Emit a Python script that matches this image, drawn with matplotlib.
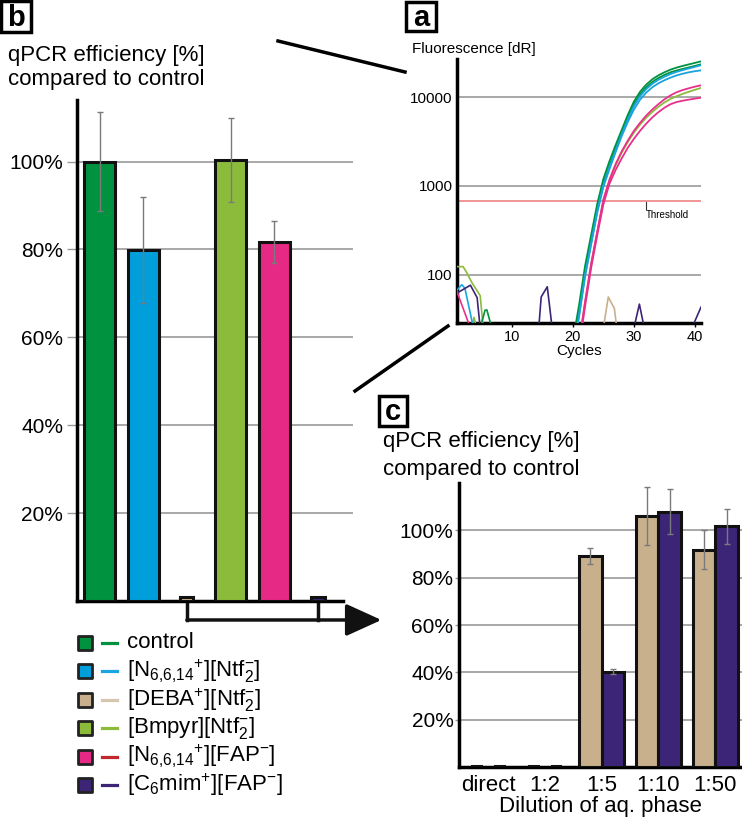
import numpy as np
import matplotlib.pyplot as plt
from matplotlib.patches import Rectangle
from matplotlib.ticker import NullLocator

plt.rcParams['font.family'] = ['Liberation Sans', 'DejaVu Sans']
plt.rcParams['mathtext.default'] = 'regular'

# ---- data -------------------------------------------------------------
labels = ['control',
          r'[N$_{6{,}6{,}14}$$^{+}$][Ntf$_2^{-}$]',
          r'[DEBA$^{+}$][Ntf$_2^{-}$]',
          r'[Bmpyr][Ntf$_2^{-}$]',
          r'[N$_{6{,}6{,}14}$$^{+}$][FAP$^{-}$]',
          r'[C$_6$mim$^{+}$][FAP$^{-}$]']
bar_colors = ['#00923f', '#009fdc', '#c8b08c', '#8cbb3c', '#e62984', '#3c2577']
line_colors = ['#00923f', '#19a6e0', '#d6c6ae', '#8cbb3c', '#c0282d', '#3c2577']

# panel b: efficiency per ionic liquid
eff_b = [100, 79.9, 0.9, 100.3, 81.6, 0.9]
err_b = [11.3, 12.0, 0, 9.5, 4.8, 0]

# panel c: dilution series
dilutions = ['direct', '1:2', '1:5', '1:10', '1:50']
eff_deba = [0.6, 0.6, 89.0, 106.0, 91.9]
err_deba = [0, 0, 3.4, 12.4, 8.2]
eff_c6 = [0.6, 0.6, 40.3, 107.8, 101.7]
err_c6 = [0, 0, 1.0, 9.5, 7.5]

# panel a: amplification curves (fluorescence dR per cycle)
cycles = [20, 21, 22, 23, 24, 25, 26, 27, 28, 29, 30, 31, 32, 33, 34, 35, 36, 37, 38, 39, 40, 41]
amp_control1 = [18, 45, 126, 282, 631, 1202, 1905, 2884, 4266, 6310, 8913, 11482, 13804, 15849, 17579, 19055, 20417, 21528, 22491, 23388, 24322, 25293]
amp_control2 = [15, 38, 105, 240, 550, 1072, 1698, 2630, 3981, 5888, 8318, 10715, 12882, 14791, 16406, 17783, 19055, 19953, 20797, 21627, 22491, 23442]
amp_n_ntf1 = [14, 35, 100, 229, 525, 1023, 1622, 2512, 3802, 5623, 7943, 10233, 12303, 14125, 15668, 16982, 18197, 19275, 20184, 21038, 21928, 22909]
amp_n_ntf2 = [13, 33, 95, 219, 501, 977, 1549, 2399, 3631, 5248, 7244, 9333, 11220, 12882, 14289, 15488, 16596, 17579, 18365, 19055, 19588, 20045]
amp_bmpyr = [8, 16, 48, 128, 300, 690, 1150, 1700, 2370, 3120, 3980, 4900, 5850, 6800, 7760, 8710, 9550, 10230, 10900, 11500, 12100, 12700]
amp_n_fap1 = [7, 17, 50, 135, 310, 700, 1180, 1760, 2450, 3240, 4170, 5130, 6170, 7240, 8320, 9440, 10470, 11350, 12020, 12590, 13120, 13600]
amp_n_fap2 = [6, 15, 44, 120, 280, 620, 1060, 1510, 2040, 2690, 3390, 4170, 5010, 5890, 6760, 7590, 8320, 8810, 9120, 9380, 9620, 9840]

# background noise traces (cycle, dR)
noise = [
    ('#8cbb3c', [1, 2, 2.6, 3.5, 4.8, 5.3], [123, 123, 105, 80, 58, 25]),
    ('#8cbb3c', [3.4, 3.8, 4.2], [25, 33, 25]),
    ('#19a6e0', [1, 1.8, 2.3, 3.7], [67, 77, 70, 25]),
    ('#3c2577', [1, 3.2, 4.3, 4.8], [62, 76, 55, 25]),
    ('#e8308a', [1, 3.2], [64, 25]),
    ('#00923f', [4.8, 5.6, 5.9, 6.7], [25, 39.7, 40, 25]),
    ('#3c2577', [14.4, 14.8, 15.8, 16.6], [25, 56, 73, 25]),
    ('#c8b08c', [25, 25.8, 26.8, 27.2], [25, 56, 41.5, 25]),
    ('#3c2577', [30, 30.9, 31.7], [25, 46.5, 25]),
    ('#3c2577', [39.5, 41], [25, 43]),
]
threshold = 675

# ---- figure -----------------------------------------------------------
W, H = 742, 821
fig = plt.figure(figsize=(W / 100, H / 100), dpi=100)


def box(x0, y0, x1, y1):
    return [x0 / W, 1 - y1 / H, (x1 - x0) / W, (y1 - y0) / H]


# overlay in pixel coordinates for decorations
ov = fig.add_axes([0, 0, 1, 1])
ov.set_xlim(0, W)
ov.set_ylim(H, 0)
ov.axis('off')

for letter, (x0, y0, x1, y1) in [('b', (1, 1, 31, 32)), ('a', (406, 2, 436, 31)), ('c', (379, 396, 407, 426))]:
    ov.add_patch(Rectangle((x0, y0), x1 - x0, y1 - y0, fill=False, ec='black', lw=2.5))
    ov.text((x0 + x1) / 2, (y0 + y1) / 2 + 1, letter, ha='center', va='center',
            fontsize=21, fontweight='bold')

ov.plot([278, 405], [41, 72], color='black', lw=2.5)
ov.plot([355, 448], [391, 326], color='black', lw=2.5)

# legend
for i, (lab, fc, lc) in enumerate(zip(labels, bar_colors, line_colors)):
    y = 643 + 28.4 * i
    ov.scatter(85, y, marker='s', s=95, facecolor=fc, edgecolor='#222222', linewidth=2)
    ov.plot([102, 117], [y, y], color=lc, lw=2.3)
    ov.text(127, y, lab, va='center', ha='left', fontsize=16)

# titles
ov.text(8, 55, 'qPCR efficiency [%]', va='center', fontsize=16)
ov.text(8, 80, 'compared to control', va='center', fontsize=16)
ov.text(383, 442, 'qPCR efficiency [%]', va='center', fontsize=16)
ov.text(383, 470, 'compared to control', va='center', fontsize=16)
ov.text(412, 49, 'Fluorescence [dR]', va='center', fontsize=11)

# ---- panel b ----------------------------------------------------------
axb = fig.add_axes(box(77, 100, 353, 601))
xb = np.arange(len(eff_b))
wb = [0.71 if v > 2 else 0.3 for v in eff_b]
axb.bar(xb, eff_b, width=wb, color=bar_colors, edgecolor='#111111', linewidth=2.2, zorder=3)
mask = np.array(err_b) > 0
axb.errorbar(xb[mask], np.array(eff_b)[mask], yerr=np.array(err_b)[mask], fmt='none',
             ecolor='#7a7a7a', elinewidth=1, capsize=2.5, capthick=1, zorder=4)
axb.set_xlim(-0.515, 5.8)
axb.set_ylim(0, 114)
axb.set_yticks([20, 40, 60, 80, 100])
axb.set_yticklabels(['20%', '40%', '60%', '80%', '100%'], fontsize=15)
axb.set_xticks([])
axb.yaxis.grid(True, color='#9a9a9a', lw=1.2)
axb.set_axisbelow(True)
axb.tick_params(axis='y', length=7, width=1, color='#9a9a9a', pad=3)
for s in ['top', 'right']:
    axb.spines[s].set_visible(False)
axb.spines['left'].set_linewidth(2.5)
axb.spines['bottom'].set_linewidth(2.5)
axb.spines['bottom'].set_bounds(-0.515, 5.57)
axb.patch.set_alpha(0)

yb = -19 / 4.4
axb.plot([2, 2], [0, yb], color='#111111', lw=2.5, clip_on=False)
axb.plot([5, 5], [0, yb], color='#111111', lw=2.5, clip_on=False)
axb.annotate('', xy=(6.45, yb), xytext=(2, yb), annotation_clip=False,
             arrowprops=dict(arrowstyle='-|>,head_length=1.1,head_width=0.5',
                             color='#111111', lw=2.5, mutation_scale=20,
                             shrinkA=0, shrinkB=0))

# ---- panel a ----------------------------------------------------------
axa = fig.add_axes(box(457, 59, 701, 323))
axa.set_yscale('log')
axa.set_xlim(1, 41)
axa.set_ylim(28.5, 26900)
axa.axhline(threshold, color='#f08c8c', lw=1.3, zorder=2)
for col, cx, cy in noise:
    axa.plot(cx, cy, color=col, lw=1.2, zorder=3)
amp = [(amp_control1, '#00923f'), (amp_control2, '#00923f'),
       (amp_n_ntf1, '#1aa3dd'), (amp_n_ntf2, '#1aa3dd'),
       (amp_bmpyr, '#8cbb3c'), (amp_n_fap1, '#e8308a'), (amp_n_fap2, '#e8308a')]
for vals, col in amp:
    axa.plot(cycles, vals, color=col, lw=1.3, zorder=3)
axa.set_yticks([100, 1000, 10000])
axa.set_yticklabels(['100', '1000', '10000'], fontsize=11)
axa.yaxis.set_minor_locator(NullLocator())
axa.set_xticks([10, 20, 30, 40])
axa.set_xticklabels(['10', '20', '30', '40'], fontsize=10.5)
axa.tick_params(axis='y', length=0, pad=3)
axa.tick_params(axis='x', length=3, width=1, pad=2)
axa.yaxis.grid(True, color='#9a9a9a', lw=1.2)
axa.set_axisbelow(True)
for s in ['top', 'right']:
    axa.spines[s].set_visible(False)
axa.spines['left'].set_linewidth(2.5)
axa.spines['bottom'].set_linewidth(2.5)
axa.set_xlabel('Cycles', fontsize=11, labelpad=0)
axa.plot([32.0, 32.0], [650, 545], color='#333333', lw=0.8, zorder=3)
axa.text(32.0, 464, 'Threshold', fontsize=7, ha='left', va='center')

# ---- panel c ----------------------------------------------------------
axc = fig.add_axes(box(459, 483, 742, 767))
xc = np.arange(len(dilutions))
wd = [0.4 if v > 2 else 0.15 for v in eff_deba]
wc = [0.4 if v > 2 else 0.15 for v in eff_c6]
axc.bar(xc - 0.2, eff_deba, width=wd, color=bar_colors[2], edgecolor='#111111', linewidth=2.2, zorder=3)
axc.bar(xc + 0.2, eff_c6, width=wc, color=bar_colors[5], edgecolor='#111111', linewidth=2.2, zorder=3)
md = np.array(err_deba) > 0
mc = np.array(err_c6) > 0
axc.errorbar((xc - 0.2)[md], np.array(eff_deba)[md], yerr=np.array(err_deba)[md], fmt='none',
             ecolor='#7a7a7a', elinewidth=1, capsize=2.5, capthick=1, zorder=4)
axc.errorbar((xc + 0.2)[mc], np.array(eff_c6)[mc], yerr=np.array(err_c6)[mc], fmt='none',
             ecolor='#7a7a7a', elinewidth=1, capsize=2.5, capthick=1, zorder=4)
axc.set_xlim(-0.51, 4.47)
axc.set_ylim(0, 120)
axc.set_yticks([20, 40, 60, 80, 100])
axc.set_yticklabels(['20%', '40%', '60%', '80%', '100%'], fontsize=15)
axc.set_xticks(xc)
axc.set_xticklabels(dilutions, fontsize=16)
axc.tick_params(axis='x', length=0, pad=6)
axc.tick_params(axis='y', length=3, width=1, color='#9a9a9a', pad=1)
axc.yaxis.grid(True, color='#9a9a9a', lw=1.2)
axc.set_axisbelow(True)
for s in ['top', 'right']:
    axc.spines[s].set_visible(False)
axc.spines['left'].set_linewidth(2.5)
axc.spines['bottom'].set_linewidth(2.5)
axc.set_xlabel('Dilution of aq. phase', fontsize=16, labelpad=0)
axc.patch.set_alpha(0)

fig.savefig('out.png', dpi=100)
